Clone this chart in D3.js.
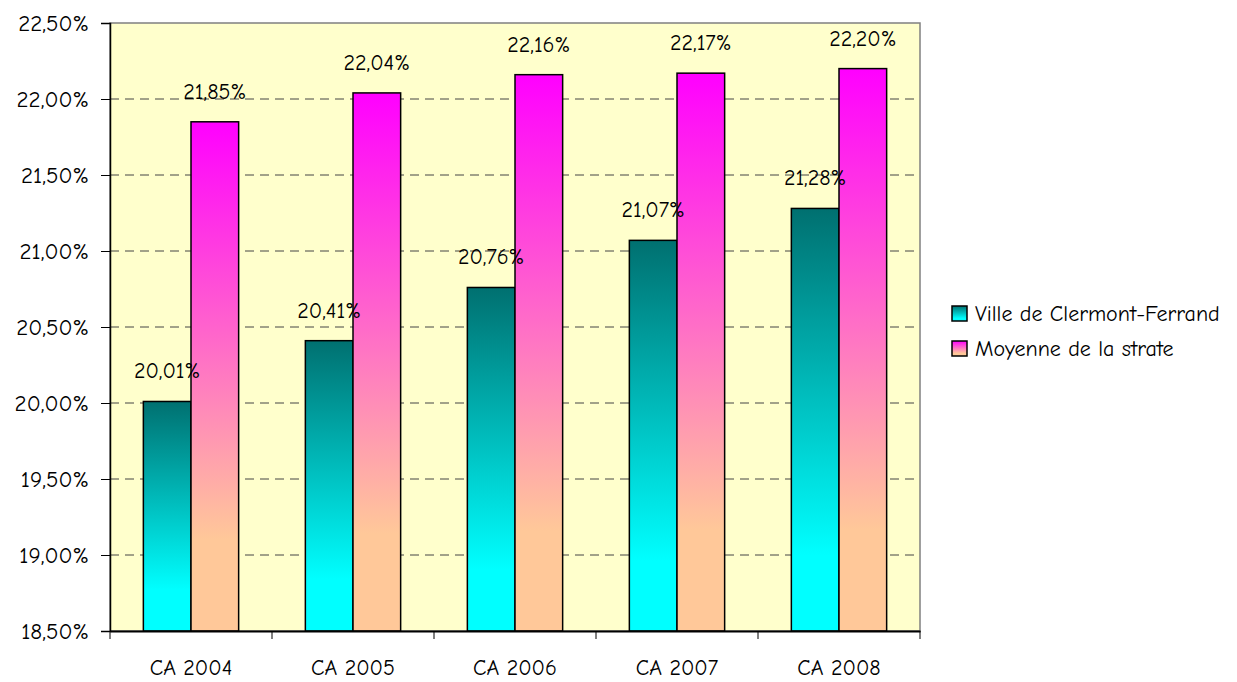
<!DOCTYPE html>
<html>
<head>
<meta charset="utf-8">
<script src="https://cdn.jsdelivr.net/npm/d3@7"></script>
<style>
  body { margin: 0; background: #fff; }
  svg text { font-family: "Comic Sans MS", "Comic Neue", "DejaVu Sans", sans-serif; fill: #000; }
</style>
</head>
<body>
<svg id="chart" width="1237" height="682"></svg>
<script>
const years = ["CA 2004", "CA 2005", "CA 2006", "CA 2007", "CA 2008"];
const series = ["Ville de Clermont-Ferrand", "Moyenne de la strate"];
const ville = [20.01, 20.41, 20.76, 21.07, 21.28];
const strate = [21.85, 22.04, 22.16, 22.17, 22.20];
const yTicks = [18.5, 19, 19.5, 20, 20.5, 21, 21.5, 22, 22.5];

const margin = {top: 23, right: 317, bottom: 51, left: 110};
const width = 1237, height = 682;

const svg = d3.select("#chart");
const fmt = v => d3.format(".2f")(v).replace(".", ",") + "%";

// gradients
const defs = svg.append("defs");
const grads = [
  {id: "g0", top: "#007070", bottom: "#00ffff"},
  {id: "g1", top: "#ff00ff", bottom: "#ffc899"}
];
grads.forEach(g => {
  let lg = defs.append("linearGradient").attr("id", g.id)
    .attr("x1", 0).attr("y1", 0).attr("x2", 0).attr("y2", 1);
  lg.append("stop").attr("offset", "0%").attr("stop-color", g.top);
  lg.append("stop").attr("offset", "82%").attr("stop-color", g.bottom);
  lg.append("stop").attr("offset", "100%").attr("stop-color", g.bottom);
});

let x = d3.scaleBand()
  .domain(years)
  .range([margin.left, width - margin.right]);

let xInner = d3.scaleBand()
  .domain([0, 1])
  .range([0, x.bandwidth()])
  .paddingOuter(0.7)
  .paddingInner(0);

let y = d3.scaleLinear()
  .domain([18.5, 22.5])
  .range([height - margin.bottom, margin.top]);

// plot background
svg.append("rect")
  .attr("x", margin.left).attr("y", margin.top)
  .attr("width", width - margin.right - margin.left)
  .attr("height", height - margin.bottom - margin.top)
  .attr("fill", "#ffffcc")
  .attr("stroke", "#808080")
  .attr("stroke-width", 1.5);

// gridlines
svg.append("g").selectAll("line")
  .data(yTicks.slice(1, -1))
  .join("line")
  .attr("x1", margin.left).attr("x2", width - margin.right)
  .attr("y1", d => y(d)).attr("y2", d => y(d))
  .attr("stroke", "#444")
  .attr("stroke-dasharray", "9,6");

// bars
const groups = svg.append("g").selectAll("g")
  .data(years.map((yr, i) => ({yr, vals: [ville[i], strate[i]]})))
  .join("g")
  .attr("transform", d => `translate(${x(d.yr)},0)`);

groups.selectAll("rect")
  .data(d => d.vals.map((v, k) => ({v, k})))
  .join("rect")
  .attr("x", d => xInner(d.k))
  .attr("y", d => y(d.v))
  .attr("width", xInner.bandwidth())
  .attr("height", d => y(18.5) - y(d.v))
  .attr("fill", d => `url(#g${d.k})`)
  .attr("stroke", "#000")
  .attr("stroke-width", 1.5);

groups.selectAll("text")
  .data(d => d.vals.map((v, k) => ({v, k})))
  .join("text")
  .attr("x", d => xInner(d.k) + xInner.bandwidth() / 2)
  .attr("y", d => y(d.v) - 23)
  .attr("text-anchor", "middle")
  .attr("font-size", 22)
  .text(d => fmt(d.v));

// y axis
const yAxis = svg.append("g")
  .attr("transform", `translate(${margin.left},0)`)
  .call(d3.axisLeft(y).tickValues(yTicks).tickFormat(fmt).tickSize(9).tickPadding(12));
yAxis.select(".domain").attr("stroke", "#000").attr("stroke-width", 1.5);
yAxis.selectAll(".tick line").attr("stroke", "#000");
yAxis.selectAll("text").attr("font-size", 23).style("font-family", null);

// x axis
const xAxis = svg.append("g")
  .attr("transform", `translate(0,${height - margin.bottom})`)
  .call(d3.axisBottom(x).tickSize(0).tickPadding(28));
xAxis.select(".domain").attr("stroke", "#000").attr("stroke-width", 2);
xAxis.selectAll("text").attr("font-size", 22).style("font-family", null);

// x tick marks at band edges
svg.append("g").selectAll("line")
  .data(years.concat(["end"]))
  .join("line")
  .attr("x1", (d, i) => i < years.length ? x(d) : x(years[years.length - 1]) + x.bandwidth())
  .attr("x2", (d, i) => i < years.length ? x(d) : x(years[years.length - 1]) + x.bandwidth())
  .attr("y1", height - margin.bottom)
  .attr("y2", height - margin.bottom + 8)
  .attr("stroke", "#000");

// legend
const legend = svg.append("g").attr("transform", "translate(952,306)");
series.forEach((s, i) => {
  let row = legend.append("g").attr("transform", `translate(0,${i * 35})`);
  row.append("rect")
    .attr("width", 15).attr("height", 15)
    .attr("fill", `url(#g${i})`)
    .attr("stroke", "#000").attr("stroke-width", 1.5);
  row.append("text")
    .attr("x", 23).attr("y", 15)
    .attr("font-size", 22)
    .text(s);
});
</script>
</body>
</html>
